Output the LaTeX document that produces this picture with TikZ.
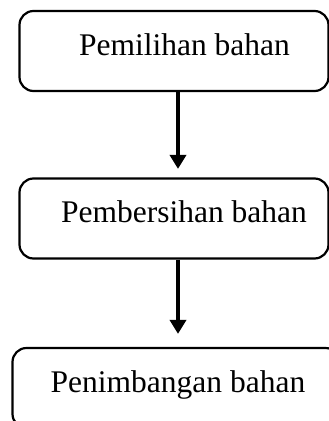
\documentclass[tikz,border=0pt]{standalone}
\usepackage{fontspec}
\setmainfont{Liberation Serif}
\usetikzlibrary{arrows.meta}
\tikzset{
  tahap/.style={draw,line width=2.2pt,rounded corners=14pt,minimum width=309pt,minimum height=80pt,
    text depth=13pt,inner sep=0pt,font=\fontsize{31.5}{36}\selectfont},
  panah/.style={->,>={Triangle[length=14pt,width=16pt]},line width=4pt}
}
\begin{document}
\begin{tikzpicture}[x=1pt,y=1pt]
        \useasboundingbox (0,0) rectangle (329,-421);
        \node[tahap] (pilih) at (174,-51) {\hspace*{21pt}Pemilihan bahan};
        \node[tahap] (bersih) at (174,-218.5) {\hspace*{20pt}Pembersihan bahan};
        \node[tahap,minimum width=327pt] (timbang) at (176,-388) {\hspace*{4pt}Penimbangan bahan};
        \draw[panah,shorten >=8.5pt] ([xshift=4pt]pilih.south)--([xshift=4pt]bersih.north); %panah 1
        \draw[panah,shorten >=13pt] ([xshift=4pt]bersih.south)--([xshift=2pt]timbang.north); %panah 2
    \end{tikzpicture}
\end{document}
